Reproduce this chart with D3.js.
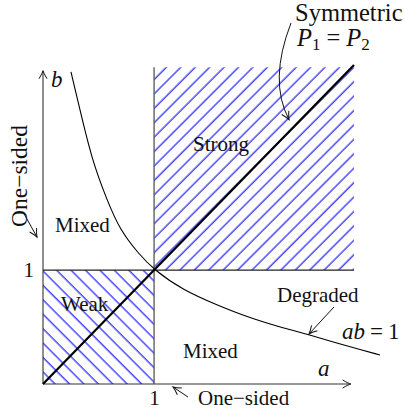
<!DOCTYPE html>
<html>
<head>
<meta charset="utf-8">
<script src="https://cdn.jsdelivr.net/npm/d3@7"></script>
<style>
    body { margin: 0; background: #fff; }
    text { font-family: "Liberation Serif", "DejaVu Serif", serif; font-size: 21px; fill: #111; }
    .math { font-style: italic; }
</style>
</head>
<body>
<svg id="chart" width="404" height="417"></svg>
<script>
// Regions in (a, b) space
var strongA = [1, 2.8], strongB = [1, 2.78];
var weakA = [0, 1], weakB = [0, 1];
var axisEndA = 2.77, axisEndB = 2.75;
var diagonal = [[0, 0], [2.8, 2.8]];
var xTicks = [1], yTicks = [1];

// the ab = 1 curve
var curveA = [0.252, 0.333, 0.441, 0.576, 0.693, 0.855, 1.0, 1.26, 1.567, 1.864, 2.161, 2.404, 2.764, 3.034];
var curveB = [2.739, 2.405, 1.966, 1.615, 1.352, 1.15, 1.0, 0.825, 0.693, 0.579, 0.492, 0.43, 0.325, 0.255];

var svg1 = d3.select("#chart");

var x = d3.scaleLinear().domain([0, 2.8]).range([43, 354]);
var y = d3.scaleLinear().domain([0, 2.8]).range([384, 65]);

var defs = svg1.append("defs");

// hatch patterns: "/" for strong, "\" for weak
[["hatchUp", 45], ["hatchDown", -45]].forEach(function (p) {
    defs.append("pattern")
        .attr("id", p[0])
        .attr("patternUnits", "userSpaceOnUse")
        .attr("width", 10.2)
        .attr("height", 10.2)
        .attr("patternTransform", "rotate(" + p[1] + ")")
        .append("line")
        .attr("x1", 2).attr("y1", -5)
        .attr("x2", 2).attr("y2", 16)
        .attr("stroke", "#1c1cff")
        .attr("stroke-width", 1.2);
});

// latex style open arrow head
defs.append("marker")
    .attr("id", "arrow")
    .attr("markerUnits", "userSpaceOnUse")
    .attr("viewBox", "-10 -6 12 12")
    .attr("refX", 0)
    .attr("refY", 0)
    .attr("markerWidth", 12)
    .attr("markerHeight", 12)
    .attr("orient", "auto")
    .append("path")
    .attr("d", "M-8,-4 C-4,-1.5 -1,-0.3 0,0 C-1,0.3 -4,1.5 -8,4")
    .attr("fill", "none")
    .attr("stroke", "#111")
    .attr("stroke-width", 1);

// hatched regions
svg1.append("rect")
    .attr("x", x(strongA[0]))
    .attr("y", y(strongB[1]))
    .attr("width", x(strongA[1]) - x(strongA[0]))
    .attr("height", y(strongB[0]) - y(strongB[1]))
    .attr("fill", "url(#hatchUp)");

svg1.append("rect")
    .attr("x", x(weakA[0]))
    .attr("y", y(weakB[1]))
    .attr("width", x(weakA[1]) - x(weakA[0]))
    .attr("height", y(weakB[0]) - y(weakB[1]))
    .attr("fill", "url(#hatchDown)");

// region borders
svg1.append("line")
    .attr("x1", x(1)).attr("y1", y(0))
    .attr("x2", x(1)).attr("y2", y(strongB[1]))
    .attr("stroke", "#555").attr("stroke-width", 1.3);
svg1.append("line")
    .attr("x1", x(0)).attr("y1", y(1))
    .attr("x2", x(strongA[1])).attr("y2", y(1))
    .attr("stroke", "#222").attr("stroke-width", 1.2);

// axes with arrows
svg1.append("line")
    .attr("x1", x(0)).attr("y1", y(0))
    .attr("x2", x(axisEndA)).attr("y2", y(0))
    .attr("stroke", "#333").attr("stroke-width", 1.1)
    .attr("marker-end", "url(#arrow)");
svg1.append("line")
    .attr("x1", x(0)).attr("y1", y(0))
    .attr("x2", x(0)).attr("y2", y(axisEndB))
    .attr("stroke", "#333").attr("stroke-width", 1.1)
    .attr("marker-end", "url(#arrow)");

var xAxis = svg1.append("g")
    .attr("transform", "translate(0," + y(0) + ")")
    .call(d3.axisBottom(x).tickValues(xTicks).tickSize(0).tickPadding(6).tickFormat(d3.format("d")));
var yAxis = svg1.append("g")
    .attr("transform", "translate(" + x(0) + ",0)")
    .call(d3.axisLeft(y).tickValues(yTicks).tickSize(0).tickPadding(9).tickFormat(d3.format("d")));
[xAxis, yAxis].forEach(function (g) {
    g.select(".domain").remove();
    g.selectAll("text").attr("font-size", null).attr("font-family", null).attr("fill", null);
});

// diagonal P1 = P2
svg1.append("line")
    .attr("x1", x(diagonal[0][0])).attr("y1", y(diagonal[0][1]))
    .attr("x2", x(diagonal[1][0])).attr("y2", y(diagonal[1][1]))
    .attr("stroke", "#000").attr("stroke-width", 2.2);

// ab = 1 curve
var line = d3.line()
    .x(function (d, i) { return x(curveA[i]); })
    .y(function (d, i) { return y(curveB[i]); })
    .curve(d3.curveBasis);
svg1.append("path")
    .attr("d", line(curveA))
    .attr("fill", "none")
    .attr("stroke", "#000")
    .attr("stroke-width", 1.1);

// annotation arrows, in (a, b) coordinates
var arrows = [
    [[2.62, 0.676], [2.395, 0.439]],      // Degraded
    [[1.305, -0.114], [1.17, -0.026]],    // One-sided (a axis)
    [[-0.18, 1.51], [-0.054, 1.29]]       // One-sided (b axis)
];
arrows.forEach(function (a) {
    svg1.append("line")
        .attr("x1", x(a[0][0])).attr("y1", y(a[0][1]))
        .attr("x2", x(a[1][0])).attr("y2", y(a[1][1]))
        .attr("stroke", "#111").attr("stroke-width", 1)
        .attr("marker-end", "url(#arrow)");
});
svg1.append("path")
    .attr("d", "M" + x(2.233) + "," + y(3.169) + " Q" + x(2.03) + "," + y(2.66) + " " + x(2.215) + "," + y(2.32))
    .attr("fill", "none")
    .attr("stroke", "#111").attr("stroke-width", 1)
    .attr("marker-end", "url(#arrow)");

// labels
svg1.append("text").attr("x", 295).attr("y", 21).style("font-size", "24.5px").text("Symmetric");
var p = svg1.append("text").attr("x", 297).attr("y", 46).style("font-size", "24.5px").attr("class", "math");
p.append("tspan").text("P");
p.append("tspan").style("font-size", "17px").attr("dy", 4).style("font-style", "normal").text("1");
p.append("tspan").attr("dy", -4).attr("dx", 6).style("font-style", "normal").text("=");
p.append("tspan").attr("dx", 6).text("P");
p.append("tspan").style("font-size", "17px").attr("dy", 4).style("font-style", "normal").text("2");

svg1.append("text").attr("x", 193).attr("y", 151).text("Strong");
svg1.append("text").attr("x", 55).attr("y", 232).text("Mixed");
svg1.append("text").attr("x", 61).attr("y", 311).text("Weak");
svg1.append("text").attr("x", 183).attr("y", 358).text("Mixed");
svg1.append("text").attr("x", 277).attr("y", 302).text("Degraded");
var ab = svg1.append("text").attr("x", 342).attr("y", 339).style("font-size", "23px").attr("class", "math");
ab.append("tspan").text("ab");
ab.append("tspan").attr("dx", 5).style("font-style", "normal").text("=");
ab.append("tspan").attr("dx", 5).style("font-style", "normal").text("1");
svg1.append("text").attr("x", 318).attr("y", 376).style("font-size", "23px").attr("class", "math").text("a");
svg1.append("text").attr("x", 51).attr("y", 87).style("font-size", "23px").attr("class", "math").text("b");
svg1.append("text").attr("x", 198).attr("y", 405).text("One\u2212sided");
svg1.append("text")
    .attr("transform", "translate(27,227) rotate(-90)")
    .style("font-size", "23.5px")
    .text("One\u2212sided");
</script>
</body>
</html>
